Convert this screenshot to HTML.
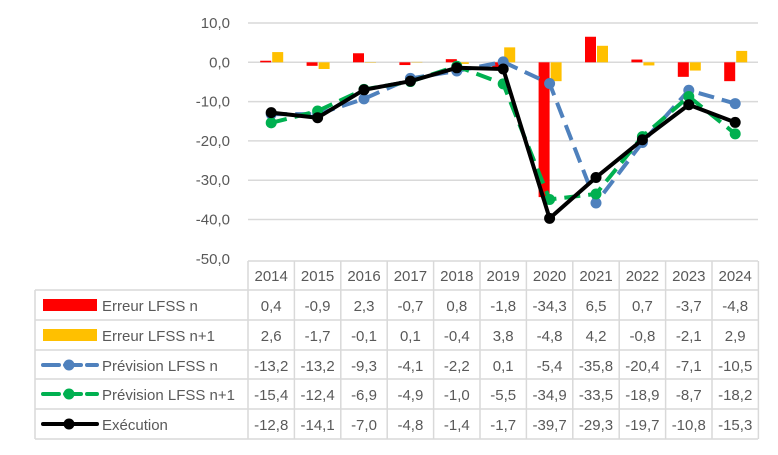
<!DOCTYPE html>
<html><head><meta charset="utf-8"><style>
body{margin:0;background:#fff;font-family:"Liberation Sans",sans-serif}
svg text{font-family:"Liberation Sans",sans-serif;fill:#595959;font-size:15px}
</style></head><body>
<svg id="c" width="778" height="450"></svg>
<script>
const years=["2014","2015","2016","2017","2018","2019","2020","2021","2022","2023","2024"];
const errN=[0.4,-0.9,2.3,-0.7,0.8,-1.8,-34.3,6.5,0.7,-3.7,-4.8];
const errN1=[2.6,-1.7,-0.1,0.1,-0.4,3.8,-4.8,4.2,-0.8,-2.1,2.9];
const prevN=[-13.2,-13.2,-9.3,-4.1,-2.2,0.1,-5.4,-35.8,-20.4,-7.1,-10.5];
const prevN1=[-15.4,-12.4,-6.9,-4.9,-1.0,-5.5,-34.9,-33.5,-18.9,-8.7,-18.2];
const exec=[-12.8,-14.1,-7.0,-4.8,-1.4,-1.7,-39.7,-29.3,-19.7,-10.8,-15.3];
const yTicks=[10,0,-10,-20,-30,-40,-50];
const NS="http://www.w3.org/2000/svg",svg=document.getElementById('c');
const x0=248,cw=46.4,yTop=23,ppu=3.93;
const X=i=>x0+cw*(i+0.5),Y=v=>yTop+(10-v)*ppu;
function el(t,a,p){const e=document.createElementNS(NS,t);for(const k in a)e.setAttribute(k,a[k]);(p||svg).appendChild(e);return e;}
const fmt=v=>v.toFixed(1).replace('.',',');
yTicks.forEach(t=>{
 if(t>-50){const g=el('line',{x1:x0,x2:758,y1:Y(t),y2:Y(t),stroke:'#d9d9d9','stroke-width':1.5});
 
 }
 const l=el('text',{x:230,y:Y(t)+5,'text-anchor':'end'});l.textContent=fmt(t);
 
 
});
years.forEach((y,i)=>{
 const cx=X(i);
 const a=el('rect',{x:cx-11,y:Math.min(Y(0),Y(errN[i])),width:11,height:Math.abs(Y(errN[i])-Y(0)),fill:'#ff0000'});
 
 
 const b=el('rect',{x:cx+1,y:Math.min(Y(0),Y(errN1[i])),width:11,height:Math.abs(Y(errN1[i])-Y(0)),fill:'#ffc000'});
 
 
});
function series(d,col,dash,name){
 const p=el('polyline',{points:d.map((v,i)=>X(i)+','+Y(v)).join(' '),fill:'none',stroke:col,'stroke-width':4,'stroke-dasharray':dash||'none','stroke-linejoin':'round'});
 
 
 d.forEach((v,i)=>{const c=el('circle',{cx:X(i),cy:Y(v),r:5.5,fill:col});
 
 });
}
series(prevN,'#4f81bd','16,8','prevision-n');
series(prevN1,'#00b050','16,8','prevision-n1');
series(exec,'#000','','execution');
// table
const rows=[261,290,320,350,379,409,439];
const G='#d9d9d9';
function ln(a,b,c,d){const e=el('line',{x1:a,y1:b,x2:c,y2:d,stroke:G,'stroke-width':1.5});
 
 }
ln(x0,261,758,261);
for(let r=1;r<rows.length;r++)ln(35,rows[r],758,rows[r]);
ln(35,290,35,439);
for(let i=0;i<=11;i++)ln(x0+cw*i,261,x0+cw*i,439);
years.forEach((y,i)=>{const t=el('text',{x:X(i),y:281,'text-anchor':'middle'});t.textContent=y;
 
 });
const data=[errN,errN1,prevN,prevN1,exec];
const names=["Erreur LFSS n","Erreur LFSS n+1","Prévision LFSS n","Prévision LFSS n+1","Exécution"];
const cols=['#ff0000','#ffc000','#4f81bd','#00b050','#000'];
data.forEach((d,r)=>{
 const ty=rows[r+1]+21;
 d.forEach((v,i)=>{const t=el('text',{x:X(i),y:ty,'text-anchor':'middle'});t.textContent=fmt(v);
 
 });
 const cy=rows[r+1]+15;
 if(r<2){const k=el('rect',{x:43,y:cy-6,width:54,height:12,fill:cols[r]});
 
 }
 else{const k=el('line',{x1:43,x2:97,y1:cy,y2:cy,stroke:cols[r],'stroke-width':4,'stroke-dasharray':r<4?'16,6':'none','stroke-linecap':'round'});
 
 
 el('circle',{cx:69,cy:cy,r:5.5,fill:cols[r]});}
 const t=el('text',{x:102,y:ty});t.textContent=names[r];
 
 
});
</script></body></html>
